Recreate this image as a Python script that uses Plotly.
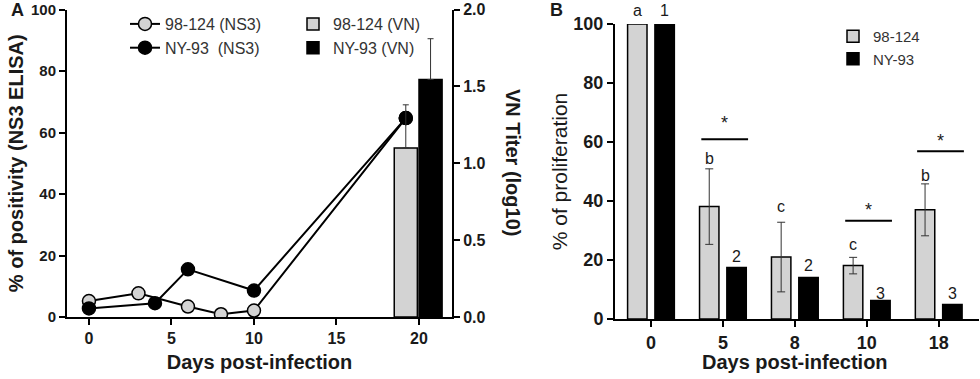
import plotly.graph_objects as go

# ---------------- Panel A data ----------------
ns3_days_98 = [0, 3, 6, 8, 10, 19.2]
ns3_pos_98 = [5.2, 7.7, 3.4, 0.9, 2.1, 64.7]
ns3_days_ny = [0, 4, 6, 10, 19.2]
ns3_pos_ny = [2.8, 4.5, 15.5, 8.6, 64.7]

vn_days = [19.2, 20.7]
vn_titer = [1.10, 1.545]
vn_err = [0.28, 0.265]
vn_names = ["98-124 (VN)", "NY-93 (VN)"]

# ---------------- Panel B data ----------------
prolif_days = ["0", "5", "8", "10", "18"]
prolif_98 = [100, 38.1, 21.0, 18.1, 37.0]
prolif_98_err = [0, 12.8, 11.8, 2.8, 8.8]
prolif_ny = [100, 17.5, 14.1, 6.3, 4.9]
letters_98 = ["a", "b", "c", "c", "b"]
letters_98_y = [104.5, 54.5, 38.0, 25.1, 48.8]
letters_ny = ["1", "2", "2", "3", "3"]
letters_ny_y = [104.5, 21.1, 18.3, 8.7, 8.7]
sig_idx = [1, 3, 4]
sig_line_y = [60.9, 33.3, 56.9]
sig_star_y = [66.5, 37.0, 60.5]

GREY = "#d3d3d3"
FONT = "Liberation Sans, Arial, sans-serif"
TXT = "#1a1a1a"

W, H = 980, 379
def px(v):
    return v / W
def py(v):
    return 1 - v / H

B_YRANGE = [0, 100]
def ydom(v):
    # value -> fraction of panel B y-axis domain (lets labels sit above the range)
    return (v - B_YRANGE[0]) / (B_YRANGE[1] - B_YRANGE[0])

fig = go.Figure()

# Panel A lines
fig.add_trace(go.Scatter(
    x=ns3_days_98, y=ns3_pos_98, mode="lines+markers", name="98-124 (NS3)",
    line=dict(color="black", width=2),
    marker=dict(size=13, color=GREY, line=dict(color="black", width=1.5)),
    xaxis="x", yaxis="y", legend="legend"))
fig.add_trace(go.Scatter(
    x=ns3_days_ny, y=ns3_pos_ny, mode="lines+markers", name="NY-93  (NS3)",
    line=dict(color="black", width=2),
    marker=dict(size=13, color="black", line=dict(color="black", width=1.5)),
    xaxis="x", yaxis="y", legend="legend"))

# Panel A bars (right axis)
for i, c in enumerate([GREY, "black"]):
    fig.add_trace(go.Bar(
        x=[vn_days[i]], y=[vn_titer[i]], name=vn_names[i],
        width=1.4, offset=-0.7,
        marker=dict(color=c, line=dict(color="black", width=1.5)),
        error_y=dict(type="data", array=[vn_err[i]], arrayminus=[0], symmetric=False,
                     color="#333", thickness=1, width=3),
        xaxis="x", yaxis="y2", legend="legend2"))

# Panel B bars
idx = list(range(len(prolif_days)))
BW = 0.27
OFFB = 0.19
fig.add_trace(go.Bar(
    x=idx, y=prolif_98, name="98-124", width=BW, offset=-OFFB - BW / 2,
    marker=dict(color=GREY, line=dict(color="black", width=1.5)),
    error_y=dict(type="data", array=prolif_98_err, symmetric=True,
                 color="#333", thickness=1, width=4),
    xaxis="x2", yaxis="y3", legend="legend3"))
fig.add_trace(go.Bar(
    x=idx, y=prolif_ny, name="NY-93", width=BW, offset=OFFB - BW / 2,
    marker=dict(color="black", line=dict(color="black", width=1.5)),
    xaxis="x2", yaxis="y3", legend="legend3"))

# significance lines
for i, yv in zip(sig_idx, sig_line_y):
    fig.add_trace(go.Scatter(
        x=[i - 0.3, i + 0.35], y=[yv, yv], mode="lines",
        line=dict(color="black", width=2), showlegend=False, hoverinfo="skip",
        xaxis="x2", yaxis="y3"))

annotations = []
for i in idx:
    annotations.append(dict(x=i - OFFB, y=ydom(letters_98_y[i]), xref="x2", yref="y3 domain",
                            text=letters_98[i], showarrow=False,
                            xanchor="center", yanchor="middle",
                            font=dict(family=FONT, size=16, color=TXT)))
    annotations.append(dict(x=i + OFFB, y=ydom(letters_ny_y[i]), xref="x2", yref="y3 domain",
                            text=letters_ny[i], showarrow=False,
                            xanchor="center", yanchor="middle",
                            font=dict(family=FONT, size=16, color=TXT)))
for i, yv in zip(sig_idx, sig_star_y):
    annotations.append(dict(x=i + 0.02, y=ydom(yv), xref="x2", yref="y3 domain", text="*",
                            showarrow=False, xanchor="center", yanchor="middle",
                            font=dict(family=FONT, size=18, color=TXT)))

# panel letters, right axis title, panel B x title
annotations.append(dict(x=px(17), y=py(10), xref="paper", yref="paper", text="<b>A</b>",
                        showarrow=False, xanchor="center", yanchor="middle",
                        font=dict(family=FONT, size=18, color=TXT)))
annotations.append(dict(x=px(556), y=py(10), xref="paper", yref="paper", text="<b>B</b>",
                        showarrow=False, xanchor="center", yanchor="middle",
                        font=dict(family=FONT, size=18, color=TXT)))
annotations.append(dict(x=px(513), y=py(162), xref="paper", yref="paper",
                        text="<b>VN Titer (log10)</b>", textangle=90, showarrow=False,
                        xanchor="center", yanchor="middle",
                        font=dict(family=FONT, size=20, color=TXT)))
annotations.append(dict(x=px(795), y=py(362), xref="paper", yref="paper",
                        text="<b>Days post-infection</b>", showarrow=False,
                        xanchor="center", yanchor="middle",
                        font=dict(family=FONT, size=20, color=TXT)))

axis_common = dict(showline=True, linewidth=2, linecolor="black", ticks="outside",
                   ticklen=6, tickwidth=2, tickcolor="black", showgrid=False,
                   zeroline=False, automargin=False)

fig.update_layout(
    width=W, height=H, autosize=False,
    margin=dict(l=0, r=0, t=0, b=0),
    paper_bgcolor="white", plot_bgcolor="white",
    font=dict(family=FONT, color=TXT),
    annotations=annotations,
    xaxis=dict(domain=[px(67), px(452)], range=[-1.33, 22.0], tickvals=[0, 5, 10, 15, 20],
               anchor="y",
               tickfont=dict(family=FONT, size=16, weight="bold", color=TXT),
               title=dict(text="<b>Days post-infection</b>", standoff=9,
                          font=dict(family=FONT, size=20, color=TXT)),
               **axis_common),
    yaxis=dict(domain=[py(317), py(9.5)], range=[0, 100], tickvals=[0, 20, 40, 60, 80, 100],
               anchor="x",
               tickfont=dict(family=FONT, size=15, weight="bold", color=TXT),
               title=dict(text="<b>% of positivity (NS3 ELISA)</b>", standoff=2,
                          font=dict(family=FONT, size=20, color=TXT)),
               **axis_common),
    yaxis2=dict(domain=[py(317), py(9.5)], range=[0, 2.0], tickvals=[0, 0.5, 1.0, 1.5, 2.0],
                tickformat=".1f", overlaying="y", side="right", anchor="x",
                tickfont=dict(family=FONT, size=16, weight="bold", color=TXT),
                **axis_common),
    xaxis2=dict(domain=[px(615), px(979)], range=[-0.5, 4.56], tickvals=idx,
                ticktext=prolif_days, anchor="y3",
                tickfont=dict(family=FONT, size=18, weight="bold", color=TXT),
                **axis_common),
    yaxis3=dict(domain=[py(319), py(24)], range=B_YRANGE, tickvals=[0, 20, 40, 60, 80, 100],
                anchor="x2",
                tickfont=dict(family=FONT, size=18, weight="bold", color=TXT),
                title=dict(text="% of proliferation", standoff=0,
                           font=dict(family=FONT, size=21, color=TXT)),
                **axis_common),
    legend=dict(x=px(125), y=py(7), xanchor="left", yanchor="top",
                bgcolor="rgba(0,0,0,0)", font=dict(family=FONT, size=16, color="#333"),
                tracegroupgap=0),
    legend2=dict(x=px(293), y=py(7), xanchor="left", yanchor="top",
                 bgcolor="rgba(0,0,0,0)", font=dict(family=FONT, size=16, color="#333")),
    legend3=dict(x=px(833), y=py(20), xanchor="left", yanchor="top",
                 bgcolor="rgba(0,0,0,0)", font=dict(family=FONT, size=15, color="#333")),
)

# remove the default 8px page margin so the figure fills the window exactly
fig.write_html("out.html", config={"displayModeBar": False},
               post_script="document.body.style.margin='0px';")
